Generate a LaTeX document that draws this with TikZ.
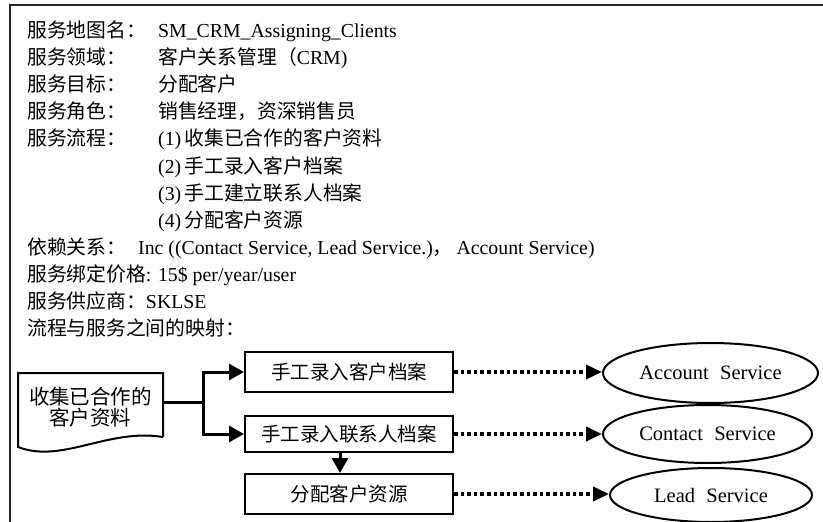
\documentclass[tikz,border=0pt]{standalone}
\usepackage{fontspec}
\setmainfont{Liberation Serif}
\newfontfamily\cjk{Noto Sans CJK SC}
\usetikzlibrary{arrows.meta,shapes.geometric}
\newcommand\zh[1]{{\cjk #1}}

\begin{document}
\begin{tikzpicture}[x=1pt,y=-1pt,
  txt/.style={anchor=base west,inner sep=0pt,font=\fontsize{19.8}{23}\selectfont},
  procbox/.style={draw,line width=2pt,minimum width=208pt,inner sep=0pt,
    font=\cjk\fontsize{19.5}{23}\selectfont},
  svc/.style={draw,ellipse,line width=2pt,inner sep=0pt,
    font=\fontsize{20.5}{23}\selectfont},
  flow/.style={line width=3pt,-{Triangle[length=15pt,width=16pt]}},
  mapto/.style={line width=3.8pt,dash pattern=on 3.6pt off 3pt,
    -{Triangle[length=16pt,width=14pt]}}]

\useasboundingbox (0,0) rectangle (823,522);

% open frame: left and top edges only
\draw[line width=1.8pt,black!85] (10,522) -- (10,5) -- (823,5);

% service description lines
\node[txt] (l1) at (27,37.5)  {\zh{服务地图名：}};
\node[txt] (v1) at (158,37.5) {SM\_CRM\_Assigning\_Clients};
\node[txt] (l2) at (27,64.6)  {\zh{服务领域：}};
\node[txt] (v2) at (158,64.6) {\zh{客户关系管理（}CRM)};
\node[txt] (l3) at (27,91.7)  {\zh{服务目标：}};
\node[txt] (v3) at (158,91.7) {\zh{分配客户}};
\node[txt] (l4) at (27,118.8) {\zh{服务角色：}};
\node[txt] (v4) at (158,118.8) {\zh{销售经理，资深销售员}};
\node[txt] (l5) at (27,145.9) {\zh{服务流程：}};
\node[txt] (v5) at (158,145.9) {(1)\,\zh{收集已合作的客户资料}};
\node[txt] (v6) at (158,173)   {(2)\,\zh{手工录入客户档案}};
\node[txt] (v7) at (158,200.1) {(3)\,\zh{手工建立联系人档案}};
\node[txt] (v8) at (158,227.2) {(4)\,\zh{分配客户资源}};
\node[txt] (l9) at (27,254.3)  {\zh{依赖关系：}};
\node[txt] (v9) at (138,254.3) {Inc ((Contact Service, Lead Service.)\zh{，}\hspace{0.2em}Account Service)};
\node[txt] (l10) at (27,281.4) {\zh{服务绑定价格}: 15\$ per/year/user};
\node[txt] (l11) at (27,308.5) {\zh{服务供应商：}SKLSE};
\node[txt] (l12) at (27,335.6) {\zh{流程与服务之间的映射：}};

% source document
\node[align=center,inner sep=0pt,font=\cjk\fontsize{20.5}{21}\selectfont]
  (doc) at (90.5,407) {收集已合作的\\客户资料};
\draw[line width=2pt,line join=miter]
  (163,437) -- (163,373) -- (18,373) -- (18,447)
  .. controls (62,464) and (108,428) .. (163,437);

% process steps
\node[procbox,minimum height=40pt] (b1) at (349,372) {手工录入客户档案};
\node[procbox,minimum height=36pt] (b2) at (349,434) {手工录入联系人档案};
\node[procbox,minimum height=40pt] (b3) at (349,494) {分配客户资源};

% services
\node[svc,minimum width=215pt,minimum height=60pt] (acc) at (710.5,373) {Account\hspace{0.55em}Service};
\node[svc,minimum width=209pt,minimum height=58pt] (con) at (707.5,434) {Contact\hspace{0.55em}Service};
\node[svc,minimum width=202pt,minimum height=54pt] (lead) at (711,495) {Lead\hspace{0.55em}Service};

% flow from the document to the steps
\coordinate (docout) at (163,402);
\coordinate (fork) at (203,402);
\draw[line width=3pt] (docout) -- (fork);
\draw[flow,line join=miter] (fork) |- (b1.west);
\draw[flow,line join=miter] (fork) |- (b2.west);
\draw[flow] ([xshift=-9pt]b2.south) -- ([xshift=-9pt]b3.north);

% step-to-service mapping
\draw[mapto] (b1.east) -- (b1.east -| acc.west);
\draw[mapto] (b2.east) -- (b2.east -| con.west);
\draw[mapto] (b3.east) -- (b3.east -| lead.west);
\end{tikzpicture}
\end{document}
